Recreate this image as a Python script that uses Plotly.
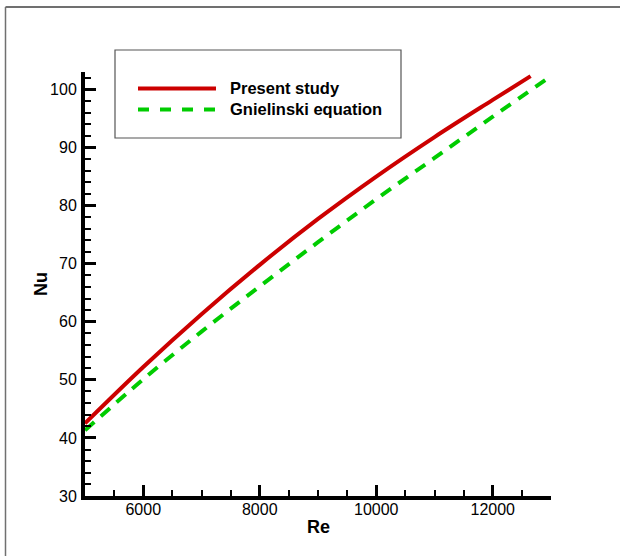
import plotly.graph_objects as go

# ---- data ----
re_present = [5000, 6000, 7000, 8000, 9000, 10000, 11000, 12000, 12650]
nu_present = [42.5, 52.2, 61.3, 69.8, 77.7, 85.0, 91.8, 98.2, 102.3]

re_gniel = [5000, 6000, 7000, 8000, 9000, 10000, 11000, 12000, 13000]
nu_gniel = [41.3, 50.1, 58.3, 66.1, 73.7, 81.1, 88.2, 95.3, 102.3]

series_names = ["Present study", "Gnielinski equation"]
x_title = "Re"
y_title = "Nu"

W, H = 620, 556
L, R, T, B = 85, 69, 72, 60
PW, PH = W - L - R, H - T - B

def px(x):
    return (x - L) / PW

def py(y):
    return (H - B - y) / PH

RED = "#cc0000"
GREEN = "#00cc00"
FONT = "Arial, Liberation Sans, sans-serif"

fig = go.Figure()
fig.add_trace(go.Scatter(x=re_present, y=nu_present, mode="lines",
                         line=dict(color=RED, width=4, shape="spline", smoothing=1.0),
                         name=series_names[0], showlegend=False))
fig.add_trace(go.Scatter(x=re_gniel, y=nu_gniel, mode="lines",
                         line=dict(color=GREEN, width=4, shape="spline", smoothing=1.0,
                                   dash="12px,9px"),
                         name=series_names[1], showlegend=False))

axis_common = dict(
    showgrid=False, zeroline=False, showline=True, linecolor="black", linewidth=4,
    ticks="inside", tickcolor="black", tickwidth=3, ticklen=11, tickformat="d",
    tickfont=dict(family=FONT, size=16, color="black"), mirror=False,
)
fig.update_xaxes(range=[5000, 13000], tick0=6000, dtick=2000,
                 minor=dict(dtick=500, tick0=5000, ticks="inside", ticklen=6, tickwidth=1.5,
                            tickcolor="black", showgrid=False),
                 ticklabelstandoff=-4,
                 **axis_common)
fig.update_yaxes(range=[30, 103], tick0=30, dtick=10,
                 minor=dict(dtick=2, tick0=30, ticks="inside", ticklen=6, tickwidth=1.5,
                            tickcolor="black", showgrid=False),
                 ticklabelstandoff=1,
                 **axis_common)

shapes = []
# outer frame (top and left)
shapes.append(dict(type="line", xref="paper", yref="paper", x0=px(5.5), x1=px(W + 5),
                   y0=py(7), y1=py(7), line=dict(color="#707070", width=2)))
shapes.append(dict(type="line", xref="paper", yref="paper", x0=px(5.5), x1=px(5.5),
                   y0=py(7), y1=py(H + 5), line=dict(color="#707070", width=1.5)))
# legend box
shapes.append(dict(type="rect", xref="paper", yref="paper", x0=px(115), x1=px(401),
                   y0=py(50), y1=py(138), line=dict(color="#555555", width=1.2),
                   fillcolor="white"))
shapes.append(dict(type="line", xref="paper", yref="paper", x0=px(138), x1=px(216),
                   y0=py(88.5), y1=py(88.5), line=dict(color=RED, width=4)))
shapes.append(dict(type="line", xref="paper", yref="paper", x0=px(138), x1=px(216),
                   y0=py(109.5), y1=py(109.5), line=dict(color=GREEN, width=4, dash="11px,11px")))

annotations = [
    dict(text="<b>%s</b>" % series_names[0], xref="paper", yref="paper", x=px(228), y=py(88.5),
         xanchor="left", yanchor="middle", showarrow=False,
         font=dict(family=FONT, size=16.5, color="black")),
    dict(text="<b>%s</b>" % series_names[1], xref="paper", yref="paper", x=px(228), y=py(109.5),
         xanchor="left", yanchor="middle", showarrow=False,
         font=dict(family=FONT, size=16.5, color="black")),
    dict(text="<b>%s</b>" % x_title, xref="paper", yref="paper", x=px(318), y=py(527),
         xanchor="center", yanchor="middle", showarrow=False,
         font=dict(family=FONT, size=18, color="black")),
    dict(text="<b>%s</b>" % y_title, xref="paper", yref="paper", x=px(41), y=py(284),
         xanchor="center", yanchor="middle", showarrow=False, textangle=-90,
         font=dict(family=FONT, size=18, color="black")),
]

fig.update_layout(
    width=W, height=H, autosize=False,
    margin=dict(l=L, r=R, t=T, b=B),
    paper_bgcolor="white", plot_bgcolor="white",
    shapes=shapes, annotations=annotations, showlegend=False,
)

fig.write_html("out.html", config={"displayModeBar": False})
